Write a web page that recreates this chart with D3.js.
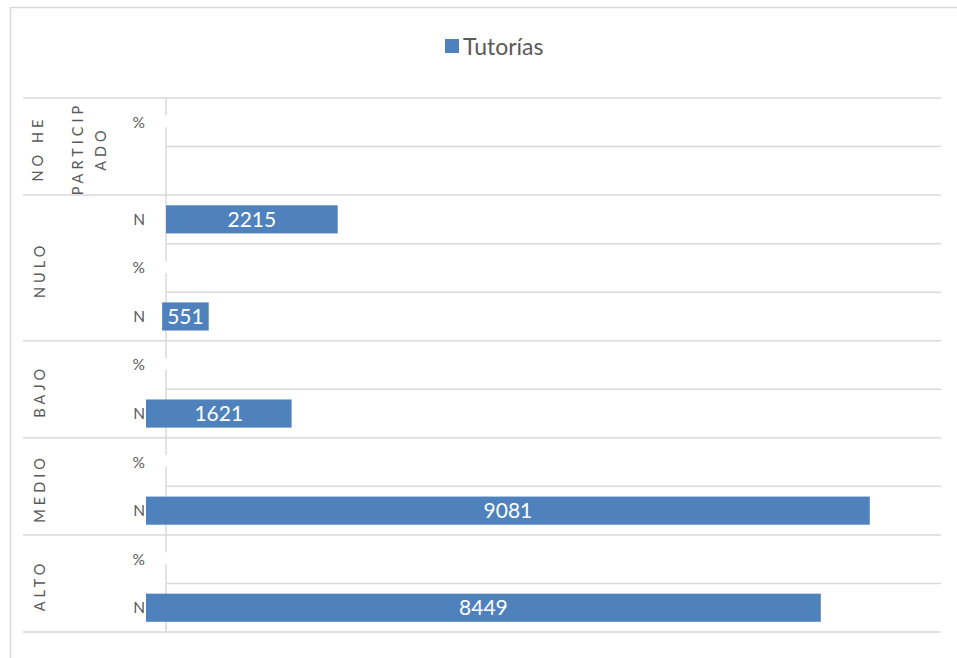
<!DOCTYPE html>
<html>
<head>
<meta charset="utf-8">
<script src="https://cdn.jsdelivr.net/npm/d3@7/dist/d3.min.js"></script>
<style>
  html, body { margin: 0; padding: 0; background: #fff; }
  svg { display: block; }
  text { font-family: Lato, "Open Sans", sans-serif; }
</style>
</head>
<body>
<script>
// ---- data (top to bottom rows) ----
const seriesName = "Tutorías";
const groups = ["NO HE PARTICIPADO", "NULO", "BAJO", "MEDIO", "ALTO"];
const groupLines = [["NO HE", "PARTICIP", "ADO"], ["NULO"], ["BAJO"], ["MEDIO"], ["ALTO"]];
const rowGroup  = [0, 0, 1, 1, 1, 2, 2, 3, 3, 4, 4];
const rowLabels = ["%", "", "N", "%", "N", "%", "N", "%", "N", "%", "N"];
const values    = [0, null, 2215, 0, 551, 0, 1621, 0, 9081, 0, 8449];
const barStarts = [0, 0, 0, 0, -50, 0, -258, 0, -258, 0, -258];
const xMax = 10000;

const W = 957, H = 658;
const grid = "#d9d9d9", barColor = "#4f81bd", textColor = "#595959";

const svg = d3.select("body").append("svg").attr("width", W).attr("height", H);

// outer chart border (top and left visible)
svg.append("path")
  .attr("d", `M10.5,${H} V7.5 H${W}`)
  .attr("fill", "none").attr("stroke", grid).attr("stroke-width", 1.5);

const rows = d3.range(values.length);
const y = d3.scaleBand().domain(rows).range([98, 632]).padding(0);
const x = d3.scaleLinear().domain([0, xMax]).range([166, 941]);

// horizontal gridlines at row boundaries
const boundaries = d3.range(values.length + 1);
const isGroupBoundary = i => i === 0 || i === values.length || rowGroup[i] !== rowGroup[i - 1];
const rowTop = i => i < values.length ? y(i) : y(values.length - 1) + y.bandwidth();
svg.append("g").selectAll("line").data(boundaries).join("line")
  .attr("x1", i => isGroupBoundary(i) ? 23 : x(0))
  .attr("x2", x(xMax))
  .attr("y1", i => rowTop(i)).attr("y2", i => rowTop(i))
  .attr("stroke", grid).attr("stroke-width", 1.5);

// category axis line
svg.append("line")
  .attr("x1", x(0)).attr("x2", x(0))
  .attr("y1", y(0)).attr("y2", rowTop(values.length))
  .attr("stroke", grid).attr("stroke-width", 1.5);

// bars
const barH = y.bandwidth() * 0.58;
const barData = rows.filter(i => values[i] != null && values[i] > 0);
svg.append("g").selectAll("rect").data(barData).join("rect")
  .attr("x", i => x(barStarts[i]))
  .attr("width", i => x(values[i]) - x(barStarts[i]))
  .attr("y", i => y(i) + (y.bandwidth() - barH) / 2)
  .attr("height", barH)
  .attr("fill", barColor);

// zero-value marks (white labels over axis)
const zeroData = rows.filter(i => values[i] === 0);
svg.append("g").selectAll("line").data(zeroData).join("line")
  .attr("x1", x(0)).attr("x2", x(0))
  .attr("y1", i => y(i) + y.bandwidth() / 2 - 7)
  .attr("y2", i => y(i) + y.bandwidth() / 2 + 5)
  .attr("stroke", "#fff").attr("stroke-width", 2);

// bar value labels
svg.append("g").selectAll("text").data(barData).join("text")
  .attr("x", i => (x(barStarts[i]) + x(values[i])) / 2)
  .attr("y", i => y(i) + y.bandwidth() / 2)
  .attr("dy", "0.36em")
  .attr("text-anchor", "middle")
  .attr("fill", "#fff").attr("font-size", 21)
  .text(i => values[i]);

// inner category labels (N / %)
svg.append("g").selectAll("text").data(rows).join("text")
  .attr("x", 145)
  .attr("y", i => y(i) + y.bandwidth() / 2)
  .attr("dy", "0.35em")
  .attr("text-anchor", "end")
  .attr("fill", textColor).attr("font-size", 15.5)
  .text(i => rowLabels[i]);

// group labels (rotated)
const lineX = [[38, 78, 101], [40], [40], [40], [40]];
groups.forEach((g, gi) => {
  const gr = rows.filter(i => rowGroup[i] === gi);
  const cy = (y(gr[0]) + y(gr[gr.length - 1]) + y.bandwidth()) / 2;
  groupLines[gi].forEach((ln, li) => {
    svg.append("text")
      .attr("transform", `translate(${lineX[gi][li]},${cy + 2}) rotate(-90)`)
      .attr("dy", "0.36em")
      .attr("text-anchor", "middle")
      .attr("fill", textColor).attr("font-size", 14.5)
      .attr("letter-spacing", "4px")
      .text(ln);
  });
});

// legend
const lg = svg.append("g");
lg.append("rect").attr("x", 445).attr("y", 39).attr("width", 14).attr("height", 14).attr("fill", barColor);
lg.append("text").attr("x", 463).attr("y", 55)
  .attr("fill", textColor).attr("font-size", 23).text(seriesName);
</script>
</body>
</html>
